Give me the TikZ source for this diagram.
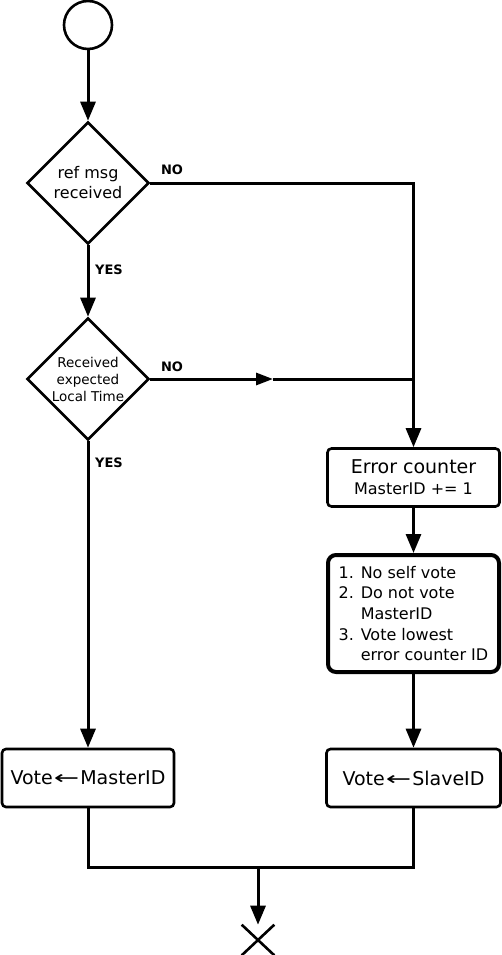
\documentclass[tikz,border=0pt]{standalone}
\usepackage{fontspec}
\usepackage{graphicx}
\setmainfont{DejaVu Sans}
\usetikzlibrary{shapes.geometric,shapes.misc,arrows.meta}
\newcommand\fsz[2]{\fontsize{#1}{#2}\selectfont}
\newcommand\getsarrow{\kern1pt\scalebox{1.6}[1]{←}\kern1pt}

\tikzset{
  conn/.style={line width=3pt},
  flow/.style={conn, -{Triangle[length=19pt,width=15pt]}},
  decision/.style={diamond, draw, line width=2.6pt, aspect=1, minimum width=122pt,
    minimum height=122pt, inner sep=0pt, align=center},
  stepbox/.style={rectangle, draw, line width=2.6pt, rounded corners=4pt, align=center},
  lbl/.style={font=\fsz{13}{15}\bfseries},
}

\begin{document}
\begin{tikzpicture}[x=1pt,y=-1pt]
    \useasboundingbox (0,0) rectangle (502,955);

    % nodes
    \node[circle, draw, line width=2.6pt, minimum size=48pt] (start) at (88,25) {};
    \node[decision, font=\fsz{16}{20}] (refmsg) at (88,183) {ref msg\\received};
    \node[decision, font=\fsz{13.5}{17}] (loctime) at (88,379) {Received\\expected\\Local Time};
    \node[stepbox, minimum width=172pt, minimum height=58pt, font=\fsz{16}{21}] (errcnt) at (413.5,477.5)
        {{\fsz{19}{21}Error counter}\\MasterID += 1};
    \node[stepbox, line width=4pt, rounded corners=8pt, minimum width=171pt, minimum height=117pt,
        align=left, font=\fsz{16}{20.7}] (rules) at (413.5,613.5)
        {1. No self vote\\2. Do not vote\\\hphantom{2. }MasterID\\3. Vote lowest\\\hphantom{3. }error counter ID};
    \node[stepbox, minimum width=172pt, minimum height=58pt, font=\fsz{19}{21}] (votemaster) at (88,778)
        {Vote\getsarrow MasterID};
    \node[stepbox, minimum width=174pt, minimum height=58pt, font=\fsz{19}{21}] (voteslave) at (413.5,778)
        {Vote\getsarrow SlaveID};
    \node[draw, cross out, line width=2.6pt, minimum width=30pt, minimum height=28pt, inner sep=0pt] (stop) at (258,940) {};

    % labels
    \node[lbl] (no1) at (172,170) {NO};
    \node[lbl] (yes1) at (109,270) {YES};
    \node[lbl] (no2) at (172,367) {NO};
    \node[lbl] (yes2) at (109,463) {YES};

    \coordinate (nomid) at (273,379);
    \coordinate (join) at (errcnt.north |- loctime.east);
    \coordinate (merge) at (258,867);

    % connectors
    \draw[flow] (start) -- (refmsg);
    \draw[flow] (refmsg) -- (loctime);
    \draw[flow] (loctime) -- (votemaster);
    \draw[flow] (refmsg.east) -| (errcnt.north);
    \draw[conn, -{Triangle[length=17pt,width=12pt]}] (loctime.east) -- (nomid);
    \draw[conn] (nomid) -- (join);
    \draw[flow] (errcnt) -- (rules);
    \draw[flow] (rules) -- (voteslave);
    \draw[conn] (votemaster.south) |- (merge) -| (voteslave.south);
    \draw[flow] (merge) -- (stop);
\end{tikzpicture}
\end{document}
